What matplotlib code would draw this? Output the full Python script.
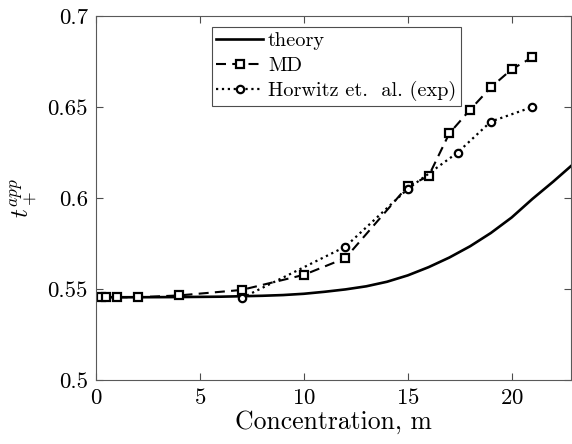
import numpy as np
import matplotlib
matplotlib.use("Agg")
import matplotlib.pyplot as plt

plt.rcParams['font.family'] = 'serif'
plt.rcParams['font.serif'] = ['cmr10']
plt.rcParams['mathtext.fontset'] = 'cm'
plt.rcParams['axes.formatter.use_mathtext'] = True

# theory curve
theory_x = [0, 2, 4, 6, 8, 9, 10, 11, 12, 13, 14, 15, 16, 17, 18, 19, 20, 21, 22, 23]
theory_y = [0.5455, 0.5455, 0.5456, 0.5458, 0.5463, 0.5467, 0.5474, 0.5485, 0.5498,
            0.5515, 0.5540, 0.5575, 0.5620, 0.5673, 0.5735, 0.5808, 0.5893, 0.5995,
            0.6090, 0.6190]

# MD
md_x = [0.25, 0.5, 1, 2, 4, 7, 10, 12, 15, 16, 17, 18, 19, 20, 21]
md_y = [0.5455, 0.5455, 0.5455, 0.5455, 0.5465, 0.5495, 0.5578, 0.5670, 0.6065,
        0.6120, 0.6355, 0.6485, 0.6608, 0.6707, 0.6773]

# Horwitz et. al. (exp)
exp_x = [7, 12, 15, 17.4, 19, 21]
exp_y = [0.5450, 0.5733, 0.6050, 0.6250, 0.6420, 0.6500]

fig = plt.figure(figsize=(5.72, 4.44), dpi=100)
ax = fig.add_axes([0.168, 0.144, 0.830, 0.820])

ax.plot(theory_x, theory_y, '-', color='k', lw=1.9, label='theory')
ax.plot(md_x, md_y, '--', color='k', lw=1.5, dashes=(4.8, 3), marker='s', ms=5.3,
        mfc='white', mew=1.6, label='MD')
ax.plot(exp_x, exp_y, ':', color='k', lw=1.6, marker='o', ms=5.3,
        mfc='white', mew=1.6, label='Horwitz et.  al. (exp)')

ax.set_xlim(0, 22.85)
ax.set_ylim(0.5, 0.7)
ax.set_xticks([0, 5, 10, 15, 20])
ax.set_yticks([0.5, 0.55, 0.6, 0.65, 0.7])
ax.set_yticklabels(['0.5', '0.55', '0.6', '0.65', '0.7'])
ax.tick_params(direction='in', top=True, right=True, labelsize=16.5, length=5,
               color='0.3', pad=6)
for s in ax.spines.values():
    s.set_color('0.35')

ax.set_xlabel('Concentration, m', fontsize=18.5, labelpad=1)
ax.set_ylabel(r'$t_+^{app}$', fontsize=18, labelpad=6)

leg = ax.legend(loc='upper left', bbox_to_anchor=(0.2436, 0.969), fontsize=14.6,
                frameon=True, fancybox=False, edgecolor='0.3', framealpha=1,
                handlelength=2.3, handletextpad=0.25, borderpad=0.22,
                labelspacing=0.32, borderaxespad=0)
leg.get_frame().set_linewidth(0.8)

fig.savefig('out.png', dpi=100)
